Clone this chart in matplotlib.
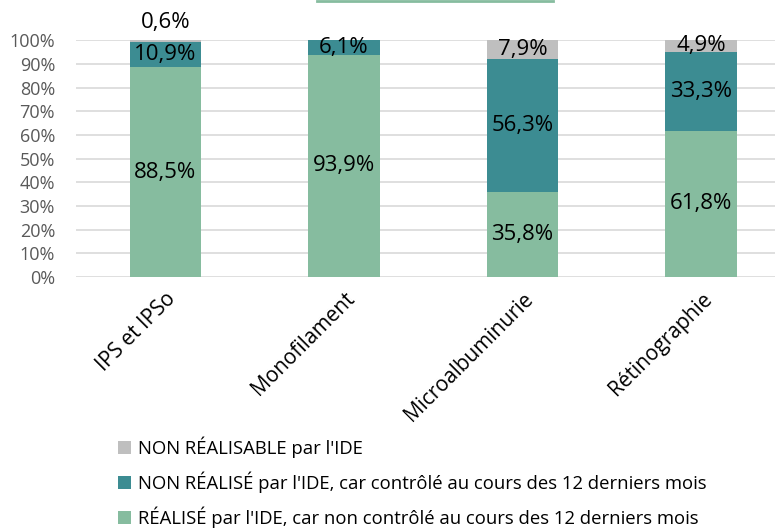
import numpy as np
import matplotlib
matplotlib.use("Agg")
import matplotlib.pyplot as plt
from matplotlib.lines import Line2D

plt.rcParams["font.family"] = ["Open Sans", "DejaVu Sans"]

CATEGORIES = ["IPS et IPSo", "Monofilament", "Microalbuminurie", "Rétinographie"]
REALISE = [88.5, 93.9, 35.8, 61.8]
NON_REALISE = [10.9, 6.1, 56.3, 33.3]
NON_REALISABLE = [0.6, 0.0, 7.9, 4.9]

LABELS = [
    "RÉALISÉ par l'IDE, car non contrôlé au cours des 12 derniers mois",
    "NON RÉALISÉ par l'IDE, car contrôlé au cours des 12 derniers mois",
    "NON RÉALISABLE par l'IDE",
]
COLORS = ["#86BC9F", "#3C8C92", "#BFBFBF"]


def fmt(v):
    return f"{v:.1f}".replace(".", ",") + "%"


def main():
    fig = plt.figure(figsize=(7.75, 5.3), dpi=100)
    ax = fig.add_axes([0.098, 0.477, 0.922, 0.4472])

    x = np.arange(len(CATEGORIES))
    series = [REALISE, NON_REALISE, NON_REALISABLE]
    bottom = np.zeros(len(CATEGORIES))
    handles = []
    for vals, col, lab in zip(series, COLORS, LABELS):
        vals = np.array(vals)
        bars = ax.bar(x, vals, 0.4, bottom=bottom, color=col, label=lab, zorder=2)
        handles.append(bars)
        for xi, b, v in zip(x, bottom, vals):
            if v <= 0:
                continue
            if v < 2:
                ax.text(xi, b + v + 3, fmt(v), ha="center", va="bottom", fontsize=16, zorder=3)
            else:
                ax.text(xi, b + v / 2, fmt(v), ha="center", va="center", fontsize=16, zorder=3)
        bottom = bottom + vals

    ax.set_ylim(0, 100)
    ax.set_xlim(-0.5, len(CATEGORIES) - 0.5)
    ax.set_yticks(np.arange(0, 101, 10))
    ax.set_yticklabels([f"{t}%" for t in range(0, 101, 10)])
    ax.yaxis.grid(True, color="#D9D9D9", linewidth=1.2, zorder=0)
    ax.set_axisbelow(True)
    for s in ax.spines.values():
        s.set_visible(False)
    ax.tick_params(axis="y", length=0, labelsize=13, labelcolor="#595959", pad=15)
    ax.tick_params(axis="x", length=0, labelsize=15, pad=8)
    ax.set_xticks(x)
    ax.set_xticklabels(CATEGORIES, rotation=45, ha="right", va="top", rotation_mode="anchor")

    fig.legend(handles[::-1], LABELS[::-1], loc="upper left", bbox_to_anchor=(0.143, 0.19),
               frameon=False, fontsize=13.3, handlelength=0.7, handleheight=0.7,
               handletextpad=0.35, labelspacing=0.72, borderaxespad=0)

    fig.add_artist(Line2D([0.409, 0.713], [0.998, 0.998], color="#86BC9F", linewidth=2,
                          transform=fig.transFigure))

    fig.savefig("out.png", dpi=100)


if __name__ == "__main__":
    main()
